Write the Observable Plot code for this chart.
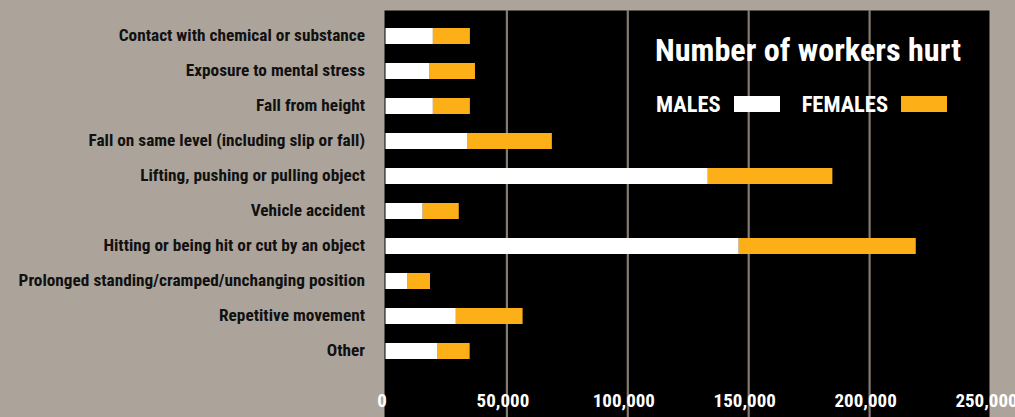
<!DOCTYPE html>
<html>
<head>
<meta charset="utf-8">
<script src="https://cdn.jsdelivr.net/npm/d3@7"></script>
<script src="https://cdn.jsdelivr.net/npm/@observablehq/plot@0.6"></script>
<style>
  html, body { margin: 0; padding: 0; background: #aca49b; }
  #wrap { position: relative; width: 1015px; height: 417px; overflow: hidden; }
  .cond { font-family: "Liberation Sans Narrow", "Roboto Condensed", "DejaVu Sans Condensed", sans-serif; font-weight: bold; font-stretch: condensed; }
  #title { position: absolute; left: 655px; top: 30px; color: #fff; font-size: 32.2px; line-height: 40px; white-space: nowrap; }
  #legend { position: absolute; left: 656px; top: 90px; color: #fff; font-size: 22.5px; line-height: 28px; white-space: nowrap; display: flex; align-items: center; }
  .sw { display: inline-block; width: 46px; height: 16px; margin-left: 13px; margin-right: 22px; }
</style>
</head>
<body>
<div id="wrap">
  <div id="chart"></div>
  <div id="title" class="cond">Number of workers hurt</div>
  <div id="legend" class="cond"><span>MALES</span><span class="sw" style="background:#ffffff"></span><span>FEMALES</span><span class="sw" style="background:#fdaf17"></span></div>
</div>
<script>
const causes = [
  "Contact with chemical or substance",
  "Exposure to mental stress",
  "Fall from height",
  "Fall on same level (including slip or fall)",
  "Lifting, pushing or pulling object",
  "Vehicle accident",
  "Hitting or being hit or cut by an object",
  "Prolonged standing/cramped/unchanging position",
  "Repetitive movement",
  "Other"
];
const males   = [19600, 18000, 19600, 33700, 133300, 15400, 146100, 8900, 29100, 21300];
const females = [15300, 19000, 15300, 35100, 51500, 14900, 73200, 9500, 27600, 13500];
const sexes = ["Males", "Females"];
const sexColors = ["#ffffff", "#fdaf17"];
const xTicks = [0, 50000, 100000, 150000, 200000, 250000];
const gridTicks = [50000, 100000, 150000, 200000];

const data = [];
causes.forEach((c, i) => {
  data.push({cause: c, sex: "Males", value: males[i]});
  data.push({cause: c, sex: "Females", value: females[i]});
});

const font = '"Liberation Sans Narrow", "Roboto Condensed", "DejaVu Sans Condensed", sans-serif';

const chart = Plot.plot({
  width: 1015,
  height: 417,
  marginLeft: 385.5,
  marginRight: 25,
  marginTop: 6.5,
  marginBottom: 36.6,
  style: {background: "transparent", fontFamily: font, fontWeight: "bold"},
  x: {domain: [0, 250000], ticks: xTicks},
  y: {domain: causes, padding: 0.55},
  color: {domain: sexes, range: sexColors},
  marks: [
    Plot.frame({fill: "#000", stroke: null, insetTop: 3.5, insetBottom: -36.6, insetLeft: -1.5, insetRight: 1}),
    Plot.ruleX(gridTicks, {stroke: "#857a6f", strokeWidth: 2.2, insetTop: 3.5, insetBottom: -36.6}),
    Plot.barX(data, {y: "cause", x: "value", fill: "sex", order: sexes}),
    Plot.axisY({tickSize: 0, tickPadding: 21, fontSize: 17.3, dy: -1.2, label: null, fill: "#111"}),
    Plot.axisX({ticks: xTicks, tickSize: 0, tickPadding: 13, fontSize: 19, label: null, fill: "#fff", tickFormat: d3.format(","), dx: -4})
  ]
});
document.getElementById("chart").appendChild(chart);
</script>
</body>
</html>
